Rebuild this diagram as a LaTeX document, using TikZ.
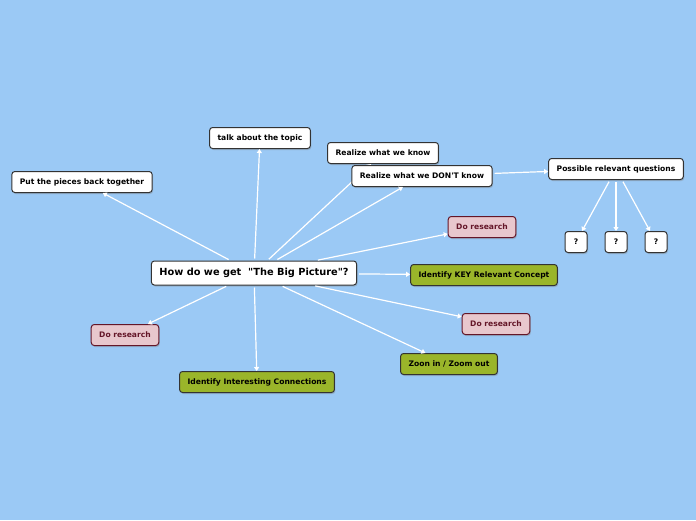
\documentclass[tikz,border=0pt]{standalone}
\usepackage{fontspec}
\setmainfont{DejaVu Sans}[Ligatures=TeXOff]
\usetikzlibrary{arrows.meta}
\usetikzlibrary{shadows}
\definecolor{sky}{RGB}{155,201,245}
\definecolor{rosy}{RGB}{232,199,205}
\definecolor{wine}{RGB}{100,22,40}
\definecolor{leaf}{RGB}{154,181,42}

\begin{document}
\begin{tikzpicture}[x=1pt, y=-1pt,
        main/.style = {draw=black!80, line width=1pt, rounded corners=3pt, fill=white, minimum height=21pt, inner xsep=8pt,
            font=\bfseries\fontsize{7.6}{9}\selectfont, drop shadow={shadow xshift=1pt, shadow yshift=-1.5pt, opacity=0.35}},
        research/.style = {main, fill=rosy, draw=wine, text=wine},
        concept/.style = {main, fill=leaf},
        link/.style = {-{Triangle[length=4pt, width=5pt]}, draw=white, line width=1.2pt, shorten <=2pt}]
        \fill[sky] (0,0) rectangle (696,520);
        \node[main, minimum height=24pt, font=\bfseries\fontsize{9.8}{11}\selectfont] (0) at (254,273) {How do we get\ \ "The Big Picture"?};
        \node[main] (3) at (383,153) {Realize what we know};
        \draw[link] (0) to (3);
        \node[main] (1) at (82,182) {Put the pieces back together};
        \node[main] (2) at (260,138) {talk about the topic};
        \node[main] (4) at (422,176) {Realize what we DON'T know};
        \node[main] (5) at (616,169) {Possible relevant questions};
        \node[main, minimum width=22pt, inner xsep=2pt] (6) at (576,242) {?};
        \node[main, minimum width=22pt, inner xsep=2pt] (7) at (616,242) {?};
        \node[main, minimum width=22pt, inner xsep=2pt] (8) at (656,242) {?};
        \node[research] (9) at (482,227) {Do research};
        \node[concept] (10) at (484,275) {Identify KEY Relevant Concept};
        \node[research] (11) at (496,324) {Do research};
        \node[concept] (12) at (449,364) {Zoon in / Zoom out};
        \node[concept] (13) at (257,382) {Identify Interesting Connections};
        \node[research] (14) at (125,335) {Do research};
        \draw[link] (0) to (1);
        \draw[link] (0) to (2);
        \draw[link] (0) to (4);
        \draw[link] (0) to (9);
        \draw[link] (0) to (10);
        \draw[link] (0) to (11);
        \draw[link] (0) to (12);
        \draw[link] (0) to (13);
        \draw[link] (0) to (14);
        \draw[link] (4) to (5);
        \draw[link] (5) to (6);
        \draw[link] (5) to (7);
        \draw[link] (5) to (8);
    \end{tikzpicture}
\end{document}
